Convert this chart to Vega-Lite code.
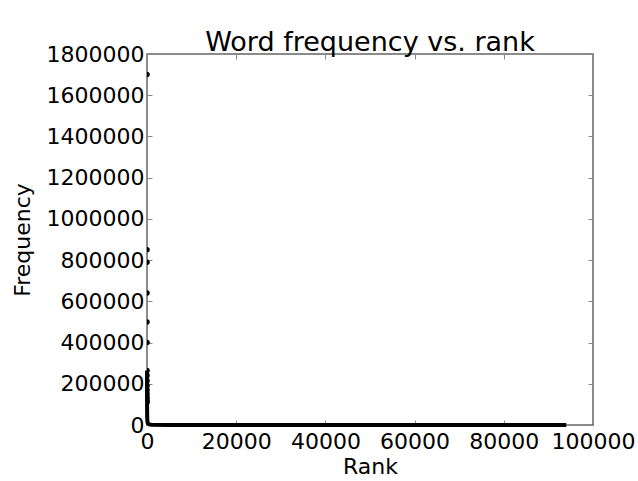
{
  "$schema": "https://vega.github.io/schema/vega-lite/v6.json",
  "width": 446,
  "height": 371,
  "autosize": "none",
  "padding": {"left": 147, "top": 54, "right": 45, "bottom": 56},
  "background": "white",
  "title": {"text": "Word frequency vs. rank", "fontSize": 27, "font": "DejaVu Sans", "fontWeight": "normal", "color": "black", "offset": -14},
  "config": {
    "view": {"stroke": "#666666", "strokeWidth": 1.5},
    "axis": {"grid": false, "domain": false, "labelFont": "DejaVu Sans", "titleFont": "DejaVu Sans", "labelFontSize": 22, "titleFontSize": 22, "labelColor": "black", "titleColor": "black", "titleFontWeight": "normal", "tickColor": "#888888", "tickSize": -5, "labelPadding": 8, "labelOverlap": false, "labelBound": false, "labelFlush": false}
  },
  "resolve": {"axis": {"x": "independent", "y": "independent"}},
  "data": {"values": [
    {"rank": 1, "freq": 1700000},
    {"rank": 2, "freq": 850000},
    {"rank": 3, "freq": 790000},
    {"rank": 4, "freq": 640000},
    {"rank": 5, "freq": 500000},
    {"rank": 6, "freq": 400000},
    {"rank": 7, "freq": 265000},
    {"rank": 8, "freq": 240000},
    {"rank": 9, "freq": 215000},
    {"rank": 10, "freq": 190000},
    {"rank": 11, "freq": 170000},
    {"rank": 12, "freq": 150000},
    {"rank": 13, "freq": 135000},
    {"rank": 14, "freq": 120000},
    {"rank": 15, "freq": 110000},
    {"rank": 20, "freq": 80000},
    {"rank": 30, "freq": 55000},
    {"rank": 50, "freq": 33000},
    {"rank": 100, "freq": 16000},
    {"rank": 200, "freq": 8000},
    {"rank": 500, "freq": 3000},
    {"rank": 1000, "freq": 1500},
    {"rank": 5000, "freq": 300},
    {"rank": 10000, "freq": 150},
    {"rank": 20000, "freq": 60},
    {"rank": 40000, "freq": 25},
    {"rank": 60000, "freq": 15},
    {"rank": 80000, "freq": 10},
    {"rank": 94000, "freq": 1}
  ]},
  "layer": [
    {
      "transform": [{"filter": "datum.rank >= 7"}],
      "mark": {"type": "line", "color": "black", "strokeWidth": 4, "clip": false},
      "encoding": {
        "x": {"field": "rank", "type": "quantitative", "scale": {"domain": [0, 100000], "nice": false}, "axis": {"orient": "bottom", "title": "Rank", "values": [0, 20000, 40000, 60000, 80000, 100000], "format": "d", "labelPadding": 11, "titlePadding": 4}},
        "y": {"field": "freq", "type": "quantitative", "scale": {"domain": [0, 1800000], "nice": false}, "axis": {"orient": "left", "title": "Frequency", "values": [0, 200000, 400000, 600000, 800000, 1000000, 1200000, 1400000, 1600000, 1800000], "format": "d", "titlePadding": 12}}
      }
    },
    {
      "transform": [{"filter": "datum.rank <= 15"}],
      "mark": {"type": "point", "filled": true, "color": "black", "size": 30, "opacity": 1, "clip": true},
      "encoding": {
        "x": {"field": "rank", "type": "quantitative", "axis": {"orient": "top", "labels": false, "title": null, "values": [0, 20000, 40000, 60000, 80000, 100000]}},
        "y": {"field": "freq", "type": "quantitative", "axis": {"orient": "right", "labels": false, "title": null, "values": [0, 200000, 400000, 600000, 800000, 1000000, 1200000, 1400000, 1600000, 1800000]}}
      }
    }
  ]
}
